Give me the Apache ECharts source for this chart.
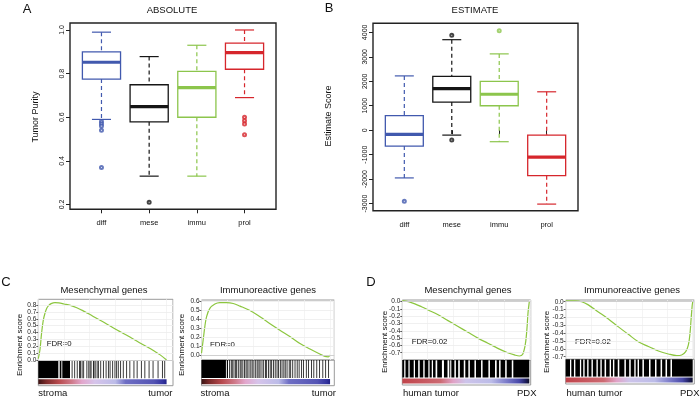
<!DOCTYPE html>
<html>
<head>
<meta charset="utf-8">
<script src="https://cdn.jsdelivr.net/npm/echarts@6/dist/echarts.min.js"></script>
<style>
  html, body { margin: 0; background: #fff; }
  #chart { width: 700px; height: 396px; }
</style>
</head>
<body>
<div id="chart"></div>
<script>
// ---- panel A / B data ----
const groups = ['diff', 'mese', 'immu', 'prol'];
const groupColors = ['#4159ae', '#161616', '#8cc54c', '#d6262c'];
// [lower whisker, Q1, median, Q3, upper whisker]
const absoluteStats = [
  [0.59, 0.775, 0.852, 0.90, 0.99],
  [0.33, 0.579, 0.649, 0.749, 0.878],
  [0.33, 0.60, 0.736, 0.81, 0.93],
  [0.69, 0.82, 0.896, 0.94, 1.0]
];
const absoluteOutliers = [[0.58, 0.57, 0.56, 0.54, 0.37], [0.21], [], [0.60, 0.584, 0.569, 0.52]];
const estimateStats = [
  [-1950, -650, -170, 600, 2220],
  [-200, 1150, 1700, 2200, 3700],
  [-470, 1000, 1470, 2000, 3120],
  [-3020, -1860, -1100, -200, 1570]
];
const estimateOutliers = [[-2900], [3880, -400], [4070], []];
const absoluteTicks = [0.2, 0.4, 0.6, 0.8, 1.0];
const estimateTicks = [-3000, -2000, -1000, 0, 1000, 2000, 3000, 4000];

// ---- panel C / D data (rank fraction, enrichment score) ----
const c1Curve = [[0, 0.02], [0.013, 0.15], [0.025, 0.38], [0.039, 0.58], [0.052, 0.68], [0.065, 0.75],
  [0.08, 0.79], [0.1, 0.82], [0.13, 0.835], [0.16, 0.83], [0.2, 0.815], [0.25, 0.795], [0.3, 0.76],
  [0.35, 0.715], [0.4, 0.665], [0.45, 0.61], [0.5, 0.56], [0.55, 0.505], [0.6, 0.45], [0.65, 0.4],
  [0.7, 0.35], [0.75, 0.295], [0.8, 0.24], [0.85, 0.19], [0.9, 0.135], [0.95, 0.075], [1, 0.0]];
const c2Curve = [[0, 0.02], [0.013, 0.17], [0.026, 0.32], [0.039, 0.43], [0.065, 0.525], [0.104, 0.574],
  [0.143, 0.59], [0.195, 0.59], [0.247, 0.58], [0.3, 0.55], [0.377, 0.5], [0.455, 0.43], [0.53, 0.356],
  [0.61, 0.28], [0.69, 0.206], [0.766, 0.13], [0.844, 0.067], [0.92, 0.011], [0.96, -0.015],
  [0.987, -0.02], [1, 0.0]];
const d1Curve = [[0, 0.015], [0.047, 0.0], [0.099, -0.03], [0.151, -0.07], [0.204, -0.114], [0.282, -0.18],
  [0.36, -0.26], [0.439, -0.34], [0.517, -0.42], [0.595, -0.5], [0.674, -0.57], [0.752, -0.64],
  [0.83, -0.70], [0.883, -0.73], [0.922, -0.745], [0.948, -0.72], [0.969, -0.58], [0.982, -0.36],
  [0.99, -0.15], [1, 0.0]];
const d2Curve = [[0, 0.01], [0.073, 0.01], [0.126, 0.0], [0.178, -0.04], [0.257, -0.13], [0.336, -0.22],
  [0.415, -0.32], [0.493, -0.415], [0.572, -0.51], [0.651, -0.57], [0.73, -0.627], [0.808, -0.665],
  [0.874, -0.686], [0.913, -0.678], [0.945, -0.636], [0.966, -0.55], [0.979, -0.40], [0.987, -0.23],
  [0.995, -0.064], [1, 0.0]];

// gene-set hits: solid runs [start, end] and single hit positions
const c1Runs = [[0, 0.156], [0.167, 0.18], [0.187, 0.247]];
const c1Hits = [0.26, 0.28, 0.30, 0.318, 0.325, 0.338, 0.35, 0.375, 0.39, 0.40, 0.408, 0.426, 0.43, 0.44,
  0.455, 0.465, 0.483, 0.504, 0.525, 0.543, 0.556, 0.576, 0.594, 0.607, 0.62, 0.638, 0.659, 0.685, 0.71,
  0.742, 0.767, 0.80, 0.827, 0.86, 0.891, 0.93, 0.964, 0.982];
const c2Runs = [[0, 0.19], [0.197, 0.206]];
const c2Hits = [0.215, 0.228, 0.236, 0.249, 0.262, 0.27, 0.283, 0.297, 0.305, 0.318, 0.331, 0.343, 0.352,
  0.366, 0.38, 0.391, 0.404, 0.418, 0.43, 0.443, 0.452, 0.467, 0.48, 0.494, 0.503, 0.518, 0.531, 0.542,
  0.556, 0.57, 0.584, 0.596, 0.61, 0.623, 0.637, 0.648, 0.662, 0.679, 0.69, 0.706, 0.724, 0.741, 0.756,
  0.775, 0.79, 0.812, 0.829, 0.852, 0.87, 0.893, 0.915, 0.94, 0.962, 0.985];
const d1Runs = [[0, 0.015], [0.025, 0.048], [0.058, 0.09], [0.1, 0.125], [0.137, 0.165], [0.176, 0.205],
  [0.215, 0.232], [0.242, 0.262], [0.275, 0.312], [0.328, 0.356], [0.37, 0.375], [0.386, 0.41],
  [0.422, 0.44], [0.453, 0.484], [0.496, 0.52], [0.532, 0.568], [0.58, 0.62], [0.632, 0.678],
  [0.69, 0.73], [0.743, 0.762], [0.774, 0.81], [0.822, 0.862], [0.874, 1.0]];
const d1Hits = [];
const d2Runs = [[0, 0.034], [0.044, 0.065], [0.076, 0.112], [0.122, 0.138], [0.149, 0.169], [0.18, 0.203],
  [0.214, 0.242], [0.253, 0.273], [0.284, 0.306], [0.318, 0.346], [0.357, 0.372], [0.383, 0.41],
  [0.422, 0.462], [0.474, 0.5], [0.512, 0.54], [0.551, 0.566], [0.577, 0.604], [0.616, 0.656],
  [0.668, 0.703], [0.715, 0.747], [0.759, 0.786], [0.798, 0.825], [0.837, 1.0]];
const d2Hits = [];

const cPosTicks = [0, 0.1, 0.2, 0.3, 0.4, 0.5, 0.6, 0.7, 0.8];
const c2Ticks = [0, 0.1, 0.2, 0.3, 0.4, 0.5, 0.6];
const dNegTicks = [0, -0.1, -0.2, -0.3, -0.4, -0.5, -0.6, -0.7];

const rankStripC = [[0, '#3a1212'], [0.06, '#7a2a2a'], [0.16, '#b84a4e'], [0.26, '#cf7a8a'],
  [0.34, '#e2a6cc'], [0.44, '#d6c4ea'], [0.6, '#bcbce8'], [0.68, '#6e6ec4'], [0.9, '#5454b4'],
  [0.97, '#3434a0'], [1, '#222288']];
const rankStripD = [[0, '#c0434a'], [0.3, '#cc6a72'], [0.4, '#e0a2c6'], [0.5, '#cdc4ea'],
  [0.7, '#bcbce8'], [0.82, '#7c7cca'], [0.92, '#4848a8'], [0.97, '#202060'], [1, '#101028']];

const FONT = '"Liberation Sans", Arial, Helvetica, sans-serif';

// ---- layout ----
const boxGrids = [
  { left: 70, top: 23, width: 206, height: 186.3 },
  { left: 373, top: 23.3, width: 205, height: 187.4 }
];
const gseaPanels = [
  { curve: c1Curve, runs: c1Runs, hits: c1Hits, ticks: cPosTicks, strip: rankStripC,
    left: 38.3, width: 134.7, top: 299.3, lineBottom: 360.5, bottom: 385.7, yMin: -0.007, yMax: 0.883, xMax: 1.05 },
  { curve: c2Curve, runs: c2Runs, hits: c2Hits, ticks: c2Ticks, strip: rankStripC,
    left: 201.5, width: 132.8, top: 300, lineBottom: 360, bottom: 385.7, yMin: -0.056, yMax: 0.619, xMax: 1.033 },
  { curve: d1Curve, runs: d1Runs, hits: d1Hits, ticks: dNegTicks, strip: rankStripD,
    left: 402.3, width: 128.4, top: 300, lineBottom: 360, bottom: 385, yMin: -0.80, yMax: 0.023, xMax: 1.011 },
  { curve: d2Curve, runs: d2Runs, hits: d2Hits, ticks: dNegTicks, strip: rankStripD,
    left: 565.7, width: 128.6, top: 300, lineBottom: 359.3, bottom: 384, yMin: -0.733, yMax: 0.022, xMax: 1.0126 }
];

function renderBox(params, api) {
  const x = api.value(0);
  const lo = api.value(1), q1 = api.value(2), med = api.value(3), q3 = api.value(4), hi = api.value(5);
  const color = groupColors[params.dataIndex];
  const seg = (x1, y1, x2, y2, style) => {
    const a = api.coord([x1, y1]), b = api.coord([x2, y2]);
    return { type: 'line', shape: { x1: a[0], y1: a[1], x2: b[0], y2: b[1] }, style: Object.assign({ stroke: color, lineWidth: 1.2 }, style) };
  };
  const tl = api.coord([x - 0.4, q3]), br = api.coord([x + 0.4, q1]);
  return {
    type: 'group',
    children: [
      seg(x, hi, x, q3, { lineDash: [4, 3] }),
      seg(x, q1, x, lo, { lineDash: [4, 3] }),
      seg(x - 0.2, hi, x + 0.2, hi, {}),
      seg(x - 0.2, lo, x + 0.2, lo, {}),
      { type: 'rect', shape: { x: tl[0], y: tl[1], width: br[0] - tl[0], height: br[1] - tl[1] },
        style: { fill: '#fff', stroke: color, lineWidth: 1.3 } },
      seg(x - 0.4, med, x + 0.4, med, { lineWidth: 3.2 })
    ]
  };
}

function renderRun(params, api) {
  const a = api.coord([api.value(0), 1]);
  const b = api.coord([api.value(1), 0.3]);
  return { type: 'rect', shape: { x: a[0], y: a[1], width: Math.max(b[0] - a[0], 0.9), height: b[1] - a[1] },
    style: { fill: '#000', opacity: api.value(2) } };
}

function boxAxes(i, min, max, ticks, fmt) {
  return {
    x: { type: 'value', gridIndex: i, min: 0.34, max: 4.66,
      axisLine: { show: false }, splitLine: { show: false },
      axisTick: { customValues: [1, 2, 3, 4], length: 4, lineStyle: { color: '#222' } },
      axisLabel: { customValues: [1, 2, 3, 4], formatter: v => groups[v - 1], fontSize: 7.5, margin: 10,
        color: '#111', fontFamily: FONT } },
    y: { type: 'value', gridIndex: i, min, max,
      axisLine: { show: false }, splitLine: { show: false },
      axisTick: { show: true, customValues: ticks, length: 4, lineStyle: { color: '#222' } },
      axisLabel: { customValues: ticks, rotate: 90, formatter: fmt, fontSize: 7, margin: 4,
        color: '#111', fontFamily: FONT } }
  };
}

const grid = [], xAxis = [], yAxis = [], series = [];
boxGrids.forEach(g => grid.push(Object.assign({ show: true, borderColor: '#222', borderWidth: 1.4 }, g)));
const axA = boxAxes(0, 0.178, 1.032, absoluteTicks, v => v.toFixed(1));
const axB = boxAxes(1, -3290, 4370, estimateTicks, v => String(v));
xAxis.push(axA.x, axB.x);
yAxis.push(axA.y, axB.y);

[[absoluteStats, absoluteOutliers], [estimateStats, estimateOutliers]].forEach(([stats, outs], i) => {
  series.push({
    type: 'custom', xAxisIndex: i, yAxisIndex: i, renderItem: renderBox, silent: true,
    encode: { x: 0, y: [1, 2, 3, 4, 5] },
    data: stats.map((s, k) => [k + 1].concat(s))
  });
  const pts = [];
  outs.forEach((vals, k) => vals.forEach(v => pts.push([k + 1, v, k])));
  series.push({
    type: 'scatter', xAxisIndex: i, yAxisIndex: i, symbol: 'emptyCircle', symbolSize: 3, silent: true,
    itemStyle: { color: p => groupColors[p.data[2]], borderWidth: 1 },
    data: pts
  });
});

gseaPanels.forEach((p, k) => {
  const gi = 2 + 2 * k, si = gi + 1;
  grid.push({ left: p.left, top: p.top, width: p.width, height: p.lineBottom - p.top,
    show: true, borderColor: '#9a9a9a', borderWidth: 1 });
  grid.push({ left: p.left, top: p.lineBottom, width: p.width, height: p.bottom - p.lineBottom,
    show: true, borderColor: '#9a9a9a', borderWidth: 1 });
  xAxis.push({ type: 'value', gridIndex: gi, min: 0, max: p.xMax, interval: 0.2,
    axisLine: { show: false }, axisTick: { show: false }, axisLabel: { show: false },
    splitLine: { lineStyle: { color: '#f1f1f1', width: 0.8 } } });
  xAxis.push({ type: 'value', gridIndex: si, min: 0, max: p.xMax, show: false });
  yAxis.push({ type: 'value', gridIndex: gi, min: p.yMin, max: p.yMax,
    axisLine: { show: false }, splitLine: { show: false },
    axisTick: { show: true, customValues: p.ticks, length: 2, lineStyle: { color: '#333', width: 0.8 } },
    axisLabel: { customValues: p.ticks, formatter: v => v.toFixed(1), fontSize: 6.5, margin: 2,
      color: '#222', fontFamily: FONT } });
  yAxis.push({ type: 'value', gridIndex: si, min: 0, max: 1, show: false });

  series.push({
    type: 'line', xAxisIndex: gi, yAxisIndex: gi, data: p.curve, smooth: 0.35, showSymbol: false,
    silent: true, lineStyle: { color: '#8cc63f', width: 1.2 },
    markLine: { silent: true, symbol: 'none', label: { show: false },
      lineStyle: { color: '#ececec', width: 0.8, type: 'solid' },
      data: p.ticks.map(t => ({ yAxis: t })).concat([{ yAxis: 0, lineStyle: { color: '#c8c8c8' } }]) }
  });
  series.push({
    type: 'custom', xAxisIndex: si, yAxisIndex: si, renderItem: renderRun, silent: true,
    encode: { x: [0, 1], y: -1 },
    data: p.runs.map(r => [r[0], r[1], 1]).concat(p.hits.map(h => [h, h, 0.85]))
  });
  series.push({
    type: 'custom', xAxisIndex: si, yAxisIndex: si, silent: true, encode: { x: [0, 1], y: -1 },
    data: [[0, 1]],
    renderItem: (params, api) => {
      const a = api.coord([api.value(0), 0.26]), b = api.coord([api.value(1), 0.06]);
      return { type: 'rect', shape: { x: a[0], y: a[1], width: b[0] - a[0], height: b[1] - a[1] },
        style: { fill: new echarts.graphic.LinearGradient(0, 0, 1, 0,
          p.strip.map(s => ({ offset: s[0], color: s[1] }))) } };
    }
  });
});

function txt(text, x, y, size, opts) {
  return Object.assign({ type: 'text', x, y, silent: true,
    style: Object.assign({ text, fontSize: size, fontFamily: FONT, fill: '#111',
      textAlign: 'center', textVerticalAlign: 'middle' }, (opts && opts.style) || {}) },
    opts && opts.rotation ? { rotation: opts.rotation } : {});
}
const left = { style: { textAlign: 'left' } };
const right = { style: { textAlign: 'right' } };
const vert = { rotation: Math.PI / 2 };

const graphic = [
  txt('A', 27, 9, 13), txt('B', 329, 8, 13), txt('C', 6, 282, 13), txt('D', 371, 282, 13),
  txt('ABSOLUTE', 172, 10, 9.5), txt('ESTIMATE', 475, 10, 9.5),
  txt('Tumor Purity', 36, 117, 9, vert), txt('Estimate Score', 329, 116, 9, vert),
  txt('Mesenchymal genes', 104, 290, 9.5), txt('Immunoreactive genes', 268, 290, 9.5),
  txt('Mesenchymal genes', 468, 290, 9.5), txt('Immunoreactive genes', 632, 290, 9.5),
  txt('Enrichment score', 20, 345, 8, vert), txt('Enrichment score', 182, 345, 8, vert),
  txt('Enrichment score', 385, 342, 8, vert), txt('Enrichment score', 547, 342, 8, vert),
  txt('FDR=0', 46.7, 343.5, 7.8, left), txt('FDR=0', 210, 345, 7.8, left),
  txt('FDR=0.02', 411.7, 342.3, 7.8, left), txt('FDR=0.02', 575, 342.3, 7.8, left),
  txt('stroma', 38.3, 393, 9.5, left), txt('tumor', 172.5, 393, 9.5, right),
  txt('stroma', 200.5, 393, 9.5, left), txt('tumor', 336, 393, 9.5, right),
  txt('human tumor', 403, 393, 9.5, left), txt('PDX', 536.5, 393, 9.5, right),
  txt('human tumor', 566.5, 393, 9.5, left), txt('PDX', 699.5, 393, 9.5, right)
];

const chart = echarts.init(document.getElementById('chart'), null, { renderer: 'canvas' });
chart.setOption({
  animation: false,
  backgroundColor: '#fff',
  grid, xAxis, yAxis, series, graphic
});
</script>
</body>
</html>
